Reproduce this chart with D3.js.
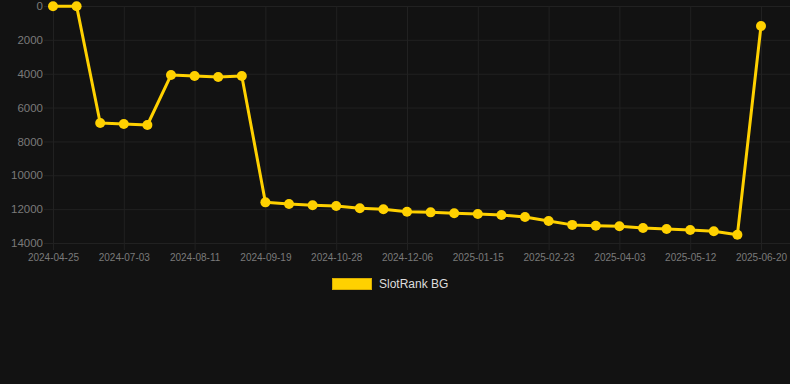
<!DOCTYPE html>
<html>
<head>
<meta charset="utf-8">
<script src="https://cdn.jsdelivr.net/npm/d3@7"></script>
<style>
  html, body { margin: 0; padding: 0; background: #121212; }
  svg { display: block; }
</style>
</head>
<body>
<svg id="chart" width="790" height="384"></svg>
<script>
const dates = [
  "2024-04-25","2024-06-07","2024-06-20","2024-07-03","2024-07-16","2024-07-29",
  "2024-08-11","2024-08-24","2024-09-06","2024-09-19","2024-10-02","2024-10-15",
  "2024-10-28","2024-11-10","2024-11-23","2024-12-06","2024-12-19","2025-01-02",
  "2025-01-15","2025-01-28","2025-02-10","2025-02-23","2025-03-08","2025-03-21",
  "2025-04-03","2025-04-16","2025-04-29","2025-05-12","2025-05-25","2025-06-07",
  "2025-06-20"
];
const rankValues = [
  10, 10, 6910, 6970, 7030, 4080, 4130, 4190, 4130, 11600, 11700, 11770,
  11810, 11950, 12010, 12150, 12190, 12240, 12290, 12350, 12460, 12700, 12930,
  12980, 13010, 13110, 13170, 13230, 13310, 13510, 1180
];
const xTickLabels = [
  "2024-04-25","2024-07-03","2024-08-11","2024-09-19","2024-10-28","2024-12-06",
  "2025-01-15","2025-02-23","2025-04-03","2025-05-12","2025-06-20"
];
const yTicks = [0, 2000, 4000, 6000, 8000, 10000, 12000, 14000];
const seriesName = "SlotRank BG";

const color = "#FFD100";
const gridColor = "#212121";
const tickColor = "#7a7a7a";
const font = "'Liberation Sans', Arial, Helvetica, sans-serif";

const svg = d3.select("#chart");
svg.append("rect").attr("width", 790).attr("height", 384).attr("fill", "#121212");

const x = d3.scalePoint().domain(dates).range([53, 761]);
const y = d3.scaleLinear().domain([0, 14000]).range([6, 243]);

// horizontal grid
const yAxis = d3.axisLeft(y).tickValues(yTicks).tickFormat(d3.format("d")).tickSize(0).tickPadding(0);
const gy = svg.append("g").attr("transform", "translate(44,0)");
gy.selectAll("line.grid").data(yTicks).enter().append("line")
  .attr("x1", 0).attr("x2", 790 - 44)
  .attr("y1", d => y(d) + 0.5).attr("y2", d => y(d) + 0.5)
  .attr("stroke", gridColor).attr("stroke-width", 1);
gy.call(yAxis);
gy.select(".domain").remove();
gy.selectAll(".tick text")
  .attr("x", -1)
  .attr("fill", tickColor)
  .attr("font-family", font)
  .attr("font-size", "11.5px");

// vertical grid at labelled ticks
const xAxis = d3.axisBottom(x).tickValues(xTickLabels).tickSize(0).tickPadding(0);
const gx = svg.append("g").attr("transform", "translate(0,243)");
gx.selectAll("line.vgrid").data(xTickLabels).enter().append("line")
  .attr("x1", d => x(d) + 0.5).attr("x2", d => x(d) + 0.5)
  .attr("y1", 6 - 243).attr("y2", 7)
  .attr("stroke", gridColor).attr("stroke-width", 1);
gx.call(xAxis);
gx.select(".domain").remove();
gx.selectAll(".tick text")
  .attr("y", 11)
  .attr("fill", tickColor)
  .attr("font-family", font)
  .attr("font-size", "10px");

// line
const line = d3.line()
  .x((d, i) => x(dates[i]))
  .y(d => y(d));
svg.append("path")
  .datum(rankValues)
  .attr("d", line)
  .attr("fill", "none")
  .attr("stroke", color)
  .attr("stroke-width", 3)
  .attr("stroke-linejoin", "round");

svg.append("g").selectAll("circle").data(rankValues).enter().append("circle")
  .attr("cx", (d, i) => x(dates[i]))
  .attr("cy", d => y(d))
  .attr("r", 5)
  .attr("fill", color);

// legend
const lg = svg.append("g");
lg.append("rect")
  .attr("x", 332.5).attr("y", 278.5).attr("width", 39).attr("height", 11)
  .attr("fill", color).attr("stroke", "#d9ad00").attr("stroke-width", 1);
lg.append("text")
  .attr("x", 379).attr("y", 284)
  .attr("dominant-baseline", "central")
  .attr("fill", "#dddddd")
  .attr("font-family", font)
  .attr("font-size", "12px")
  .text(seriesName);
</script>
</body>
</html>
